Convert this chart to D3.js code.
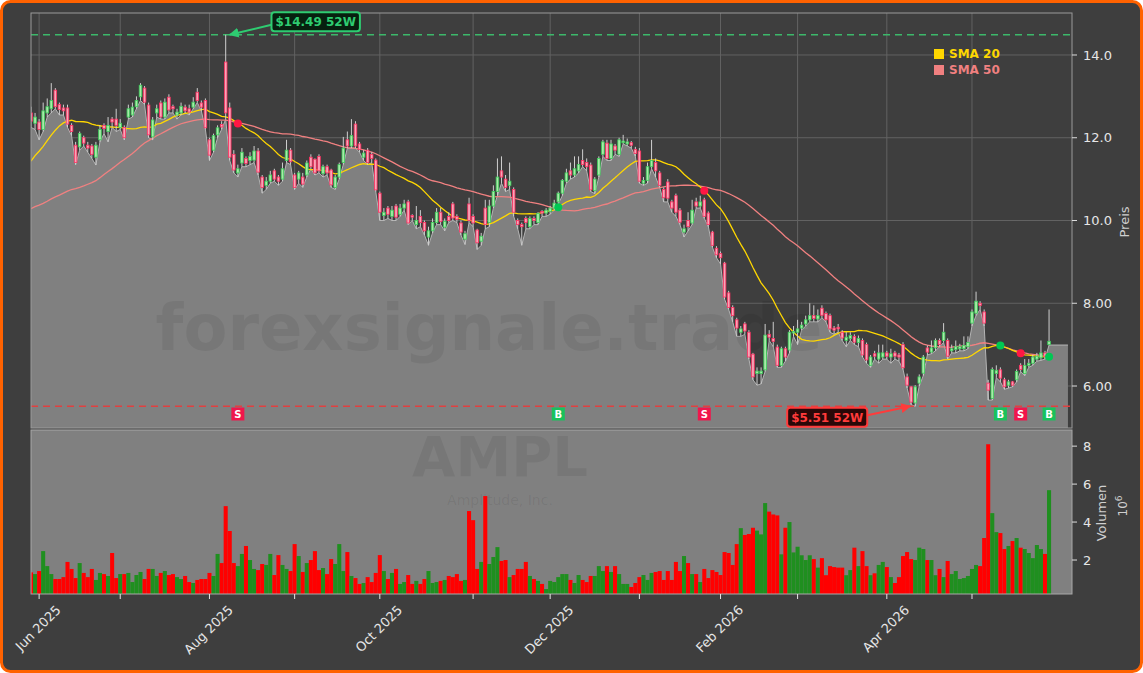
<!DOCTYPE html>
<html><head><meta charset="utf-8">
<script src="https://cdn.jsdelivr.net/npm/d3@7"></script>
<style>
html,body{margin:0;padding:0;background:#ffffff;}
svg{display:block;font-family:"DejaVu Sans",sans-serif;}
</style></head><body>
<svg id="chart" width="1143" height="673"></svg>
<script>
// ---------------- DATA ----------------
const startDate = "2025-05-29";
const holidays = ["2025-06-19","2025-07-04","2025-09-01","2025-11-27","2025-12-25","2026-01-01","2026-01-19","2026-02-16","2026-04-03","2026-05-25"];
const ticker = "AMPL";
const company = "Amplitude, Inc.";
const watermark = "forexsignale.trade";

const open = [12.6,12.35,12.38,12.2,12.6,12.7,13.15,12.8,12.72,12.72,12.3,11.82,11.78,12.0,11.82,11.8,11.53,11.95,12.3,12.15,
12.45,12.45,12.25,12.25,12.5,12.55,12.75,12.99,13.2,12.79,12.02,12.6,12.84,12.5,12.98,12.75,12.55,12.6,12.74,12.7,
12.74,13.1,12.84,12.9,11.95,11.7,12.07,12.32,13.83,12.72,11.6,11.15,11.39,11.5,11.45,11.46,11.68,11.05,10.85,10.95,
11.2,11.05,11.0,11.45,11.7,11.1,11.0,11.05,11.1,11.53,11.48,11.55,11.13,11.3,11.22,10.8,11.05,11.4,11.95,11.8,
12.33,11.85,11.53,11.7,11.6,11.46,10.66,10.12,10.3,10.1,10.35,10.15,10.3,10.45,10.12,9.9,10.1,9.95,9.6,9.75,
9.95,10.2,9.84,10.1,10.4,10.1,9.94,9.55,10.4,10.1,9.77,9.5,10.3,9.95,10.35,10.7,11.2,11.0,10.85,10.75,
10.0,9.9,10.05,9.85,10.05,9.95,10.22,10.18,10.22,10.3,10.45,10.66,10.95,11.2,11.1,11.2,11.45,11.4,11.34,10.72,
11.1,11.6,11.87,11.5,11.8,11.6,11.88,11.85,11.88,11.72,11.68,10.9,10.97,11.3,11.4,11.15,10.75,10.93,10.45,10.6,
10.25,9.72,10.0,9.94,10.45,10.35,10.5,10.18,9.72,9.33,9.2,8.97,8.25,7.9,7.6,7.3,7.5,7.3,6.77,6.3,
6.3,6.39,7.25,7.15,6.94,6.5,6.9,6.87,7.28,7.3,7.4,7.5,7.6,7.7,7.62,7.88,7.75,7.7,7.4,7.42,
7.3,7.1,7.15,7.2,7.05,7.1,7.0,6.5,6.78,6.65,6.7,6.8,6.7,6.8,6.75,7.0,6.22,5.98,5.59,6.07,
6.31,6.92,6.82,6.92,7.1,7.1,7.1,6.85,6.88,6.9,6.9,6.95,7.52,7.76,8.0,7.79,6.07,5.7,6.3,6.39,
6.15,6.02,6.1,6.15,6.5,6.3,6.5,6.55,6.65,6.68,6.8,7.0];
const high = [12.75,12.6,12.45,12.85,12.95,13.32,13.2,12.85,12.8,12.8,12.35,11.9,12.15,12.05,11.9,11.85,11.9,12.3,12.35,12.5,
12.5,12.7,12.45,12.3,12.8,12.85,13.0,13.32,13.25,12.85,12.5,12.8,12.9,12.95,13.05,12.8,12.7,12.85,12.8,12.8,
12.98,13.2,12.9,12.95,12.0,12.1,12.3,12.4,14.49,12.85,11.7,11.35,11.75,11.55,11.65,11.8,11.75,11.1,11.05,11.2,
11.25,11.1,11.4,11.95,11.75,11.15,11.2,11.15,11.45,11.6,11.5,11.6,11.35,11.35,11.25,11.1,11.4,12.02,12.15,12.45,
12.4,11.9,11.7,11.75,11.65,11.5,10.7,10.3,10.35,10.35,10.4,10.4,10.5,10.5,10.15,10.35,10.25,10.0,9.85,10.05,
10.3,10.3,10.05,10.2,10.45,10.15,10.0,9.75,10.55,10.15,9.8,9.7,10.5,10.5,10.85,11.5,11.55,11.1,11.4,10.8,
10.05,9.95,10.1,10.1,10.1,10.2,10.25,10.3,10.35,10.5,10.7,11.0,11.25,11.4,11.55,11.55,11.72,11.5,11.4,11.05,
11.55,11.95,11.95,11.95,11.85,12.0,12.07,11.98,11.92,11.78,11.75,11.05,11.4,11.95,11.5,11.2,10.8,11.0,10.5,10.65,
10.3,9.9,10.2,10.5,10.55,10.6,10.55,10.22,9.75,9.38,9.25,9.0,8.3,7.95,7.65,7.45,7.55,7.35,6.8,6.45,
6.45,7.5,7.35,7.55,7.0,6.95,6.95,7.35,7.45,7.6,7.55,7.7,8.0,7.95,7.85,7.95,7.8,7.75,7.45,7.5,
7.35,7.3,7.3,7.25,7.22,7.15,7.05,6.75,6.85,7.0,7.0,6.85,6.9,6.85,6.8,7.06,6.3,6.0,6.02,6.28,
6.75,6.98,7.1,7.15,7.15,7.52,7.15,7.0,7.1,7.02,7.2,7.2,7.85,8.28,8.05,7.85,6.15,6.45,6.5,6.45,
6.2,6.15,6.12,6.4,6.55,6.65,6.65,6.75,6.8,7.1,6.85,7.85];
const low = [12.25,12.2,11.95,12.15,12.5,12.6,12.7,12.55,12.55,12.25,12.05,11.35,11.7,11.8,11.65,11.5,11.34,11.9,12.1,11.9,
12.25,12.15,12.2,11.95,12.45,12.5,12.7,12.9,12.8,12.0,11.95,12.5,12.45,12.45,12.6,12.6,12.45,12.55,12.6,12.55,
12.7,12.85,12.65,12.2,11.45,11.65,12.0,12.2,12.45,11.45,11.15,11.05,11.3,11.3,11.35,11.4,11.1,10.66,10.75,10.9,
10.95,10.85,10.95,11.4,11.35,10.75,10.9,10.8,11.05,11.25,11.1,11.15,11.05,11.1,10.8,10.75,11.0,11.35,11.75,11.75,
11.75,11.65,11.45,11.35,11.4,10.7,10.0,10.0,10.05,10.0,10.0,10.1,10.25,9.9,10.0,9.8,9.85,9.65,9.4,9.7,
9.9,9.9,9.75,9.95,10.0,9.95,9.65,9.42,9.95,9.85,9.3,9.4,9.8,9.85,10.3,10.6,10.9,10.7,10.75,10.1,
9.8,9.4,9.8,9.8,9.9,9.9,10.1,10.1,10.15,10.25,10.4,10.6,10.9,11.0,11.05,11.15,11.3,11.2,10.7,10.65,
11.05,11.55,11.45,11.45,11.6,11.55,11.85,11.8,11.75,11.55,10.9,10.85,10.9,11.25,11.05,10.8,10.45,10.45,10.2,10.1,
9.9,9.6,9.75,9.9,10.3,10.3,10.05,9.85,9.35,9.1,8.95,8.1,7.85,7.55,7.2,7.2,7.25,6.65,6.15,6.02,
6.05,6.35,7.1,6.95,6.45,6.45,6.6,6.8,7.2,7.0,7.35,7.45,7.55,7.55,7.55,7.65,7.55,7.3,7.25,7.3,
7.1,6.95,7.1,7.0,6.95,6.7,6.55,6.45,6.65,6.55,6.65,6.65,6.55,6.65,6.6,6.4,5.95,5.55,5.51,6.0,
6.25,6.75,6.78,6.85,6.95,7.05,6.65,6.8,6.8,6.85,6.85,6.9,7.45,7.7,7.85,7.45,5.66,5.66,6.2,6.1,
5.92,5.95,5.98,6.1,6.35,6.25,6.45,6.5,6.6,6.62,6.65,6.99];
const close = [12.4,12.5,12.2,12.65,12.75,12.9,12.75,12.68,12.65,12.33,12.15,11.4,12.1,11.87,11.75,11.6,11.82,12.2,12.22,12.3,
12.38,12.3,12.35,12.0,12.7,12.74,12.9,13.27,12.86,12.07,12.43,12.7,12.5,12.86,12.67,12.7,12.62,12.76,12.65,12.62,
12.86,12.9,12.74,12.24,11.58,12.05,12.24,12.26,12.6,11.53,11.22,11.25,11.65,11.38,11.55,11.68,11.17,10.8,10.95,11.1,
11.0,10.95,11.25,11.7,11.42,10.8,11.15,10.88,11.39,11.3,11.15,11.2,11.3,11.15,10.86,11.05,11.35,11.75,11.8,12.05,
11.8,11.72,11.63,11.4,11.5,10.74,10.2,10.2,10.15,10.25,10.08,10.3,10.4,9.94,10.08,10.0,9.95,9.75,9.75,9.95,
10.2,9.98,9.98,10.0,10.06,10.03,9.72,9.68,10.0,9.94,9.46,9.62,9.9,10.35,10.7,11.05,11.05,10.8,10.95,10.2,
9.9,9.85,9.95,10.05,10.0,10.17,10.18,10.25,10.3,10.42,10.66,10.97,11.15,11.1,11.25,11.35,11.35,11.3,10.74,11.0,
11.5,11.9,11.5,11.85,11.7,11.95,11.92,11.9,11.82,11.62,10.95,10.97,11.3,11.45,11.2,10.85,10.55,10.54,10.3,10.2,
9.96,9.8,9.85,10.25,10.35,10.45,10.1,9.9,9.4,9.17,9.1,8.15,7.9,7.7,7.4,7.38,7.33,6.7,6.22,6.36,
6.36,7.23,7.18,7.08,6.5,6.9,6.7,7.3,7.32,7.38,7.47,7.6,7.7,7.63,7.7,7.71,7.6,7.38,7.35,7.38,
7.16,7.18,7.22,7.06,7.15,6.75,6.63,6.7,6.72,6.8,6.8,6.72,6.78,6.72,6.7,6.44,6.02,5.61,5.98,6.22,
6.7,6.82,6.92,7.1,7.0,7.3,6.72,6.9,6.95,6.95,6.98,7.05,7.79,8.05,7.95,7.52,5.9,6.4,6.38,6.19,
5.98,6.1,6.02,6.35,6.4,6.5,6.55,6.7,6.72,6.8,6.72,7.08];
// volume in millions
const volume = [1.35,1.26,1.42,2.47,1.68,1.26,1.0,1.0,1.1,1.9,1.53,1.05,1.84,1.32,1.1,1.53,0.95,1.32,1.26,1.16,
2.37,1.05,1.26,1.26,1.32,0.84,1.21,1.37,1.0,1.53,1.53,1.16,1.32,1.42,1.21,1.26,1.1,1.0,1.16,0.84,
0.79,0.95,1.0,1.0,1.32,1.16,2.32,1.84,4.84,3.53,1.84,1.68,2.32,2.74,2.0,1.53,1.47,1.79,1.74,2.32,
1.21,2.26,1.74,1.53,1.42,2.84,2.21,1.37,1.84,2.0,2.47,1.47,1.58,1.26,2.05,1.79,2.84,1.42,2.42,1.16,
1.05,0.74,0.79,1.1,0.84,1.32,2.26,1.42,1.0,1.32,1.53,0.74,0.84,1.21,0.74,0.9,0.74,1.0,1.42,0.79,
0.84,0.9,0.95,1.16,1.1,1.26,0.9,0.95,4.58,4.1,1.53,1.9,5.37,1.79,2.16,2.68,1.95,2.0,1.1,1.21,
1.53,1.53,1.9,1.16,1.0,0.9,0.74,0.47,0.9,0.84,1.1,1.26,1.26,0.95,0.79,1.21,0.95,0.84,1.16,1.16,
1.68,1.42,1.68,1.37,1.68,1.26,0.74,0.74,0.58,0.79,1.1,1.21,0.95,1.32,1.37,1.42,0.95,1.42,0.95,1.9,
1.42,2.21,1.84,1.26,1.26,0.84,1.53,1.05,1.47,1.37,1.21,2.42,2.37,1.74,2.84,3.68,3.32,3.37,3.7,3.55,
3.35,5.0,4.55,4.4,4.35,2.3,3.7,4.0,2.4,2.7,2.25,2.0,2.25,2.05,1.6,2.1,1.2,1.68,1.63,1.6,
1.6,1.2,1.47,2.65,1.68,2.47,1.68,1.2,1.3,1.74,1.9,1.63,1.1,0.79,1.1,2.21,2.42,2.05,2.0,2.65,
2.58,2.0,2.0,1.2,1.53,1.1,1.95,1.26,1.42,1.0,1.05,1.16,1.53,1.74,1.68,3.16,8.1,4.47,3.47,3.42,
2.58,2.74,3.0,3.16,2.65,2.58,2.37,2.1,2.79,2.58,2.32,5.68];
// closes before the visible window (needed for the moving averages)
const priorCloses = [10.1,10.3,10.5,10.2,10.0,10.4,10.6,10.3,9.9,10.1,10.4,10.5,10.1,9.8,9.7,9.4,
8.5,8.3,8.7,9.0,8.6,8.4,8.7,8.9,9.1,8.8,8.7,9.0,9.2,
9.4,9.8,10.1,10.3,10.0,10.2,10.4,10.6,
11.2,11.5,11.7,12.0,12.2,11.9,12.1,12.4,12.3,12.5,12.6,12.5];
const signalDates = ["2025-08-12","2025-12-03","2026-01-27","2026-05-12","2026-05-19","2026-05-29"];
const signalTypes = ["S","B","S","B","S","B"];
const priceTicks = [6,8,10,12,14];
const priceTickLabels = ["6.00","8.00","10.0","12.0","14.0"];
const volumeTicks = [2,4,6,8];
const xTickLabels = ["Jun 2025","Aug 2025","Oct 2025","Dec 2025","Feb 2026","Apr 2026"];
const smaPeriods = [20,50];
const smaNames = ["SMA 20","SMA 50"];
const smaColors = ["#ffd700","#f08080"];

// ---------------- LAYOUT ----------------
const W = 1143, H = 673;
const L = 31, R = 1072, PT = 13, PB = 428, VT = 430, VB = 594;
const step = 4.056;

const svg = d3.select("#chart");
const fmtDay = d3.timeFormat("%Y-%m-%d");
const fmtMon = d3.timeFormat("%b %Y");

// trading calendar
const dates = [];
{
  const d = new Date(startDate + "T12:00:00");
  while (dates.length < close.length) {
    const wd = d.getDay();
    if (wd !== 0 && wd !== 6 && !holidays.includes(fmtDay(d))) dates.push(new Date(d));
    d.setDate(d.getDate() + 1);
  }
}
const dateIndex = new Map(dates.map((d, i) => [fmtDay(d), i]));
const N = close.length;

const x = d3.scaleLinear().domain([0, (R - L) / step]).range([L, R]);
const y = d3.scaleLinear().domain([4.985, 15.015]).range([PB, PT]);
const yv = d3.scaleLinear().domain([0.21, 8.85]).range([VB, VT]);

// moving averages
const allC = priorCloses.concat(close);
const smas = smaPeriods.map(n => close.map((c, i) => {
  const j = i + priorCloses.length;
  return d3.mean(allC.slice(j - n + 1, j + 1));
}));

// background + frame
svg.append("rect").attr("x", 1.5).attr("y", 1.5).attr("width", W - 3).attr("height", H - 3)
  .attr("rx", 9).attr("fill", "#3e3e3e").attr("stroke", "#ff6200").attr("stroke-width", 3);

const defs = svg.append("defs");
defs.append("clipPath").attr("id", "cp").append("rect").attr("x", L).attr("y", PT).attr("width", R - L).attr("height", PB - PT);
defs.append("clipPath").attr("id", "cv").append("rect").attr("x", L).attr("y", VT).attr("width", R - L).attr("height", VB - VT);
function marker(id, color) {
  defs.append("marker").attr("id", id).attr("viewBox", "0 0 10 10").attr("refX", 9).attr("refY", 5)
    .attr("markerWidth", 5).attr("markerHeight", 5).attr("orient", "auto-start-reverse")
    .append("path").attr("d", "M0,0 L10,5 L0,10 z").attr("fill", color);
}
marker("ag", "#2ecc71");
marker("ar", "#ff3b3b");

// month ticks
const monthIdx = [];
dates.forEach((d, i) => { if (i > 0 && d.getMonth() !== dates[i - 1].getMonth()) monthIdx.push(i); });

// ---------- PRICE PANEL ----------
const gp = svg.append("g");
gp.append("rect").attr("x", L).attr("y", PT).attr("width", R - L).attr("height", PB - PT).attr("fill", "#3e3e3e");
const gc = gp.append("g").attr("clip-path", "url(#cp)");
// grid
gc.selectAll("line.hg").data(priceTicks).join("line")
  .attr("x1", L).attr("x2", R).attr("y1", d => y(d)).attr("y2", d => y(d))
  .attr("stroke", "#626262").attr("stroke-width", 1);
gc.selectAll("line.vg").data(monthIdx).join("line")
  .attr("x1", d => x(d)).attr("x2", d => x(d)).attr("y1", PT).attr("y2", PB)
  .attr("stroke", "#626262").attr("stroke-width", 1);

// area (lows)
const areaPts = low.map((v, i) => [i, v]);
areaPts.push([x.domain()[1] - 1, low[N - 1]]);
gc.append("path").datum(areaPts)
  .attr("d", d3.area().x(d => x(d[0])).y0(PB).y1(d => y(d[1])))
  .attr("fill", "#808080");
gc.append("path").datum(areaPts)
  .attr("d", d3.line().x(d => x(d[0])).y(d => y(d[1])))
  .attr("fill", "none").attr("stroke", "#b4b4b4").attr("stroke-width", 1);

// watermark
gc.append("text").attr("x", 489).attr("y", 350).attr("text-anchor", "middle")
  .attr("font-size", 64).attr("font-weight", "bold").attr("fill", "#000").attr("fill-opacity", 0.07)
  .text(watermark);

// 52w lines
const hiVal = d3.max(high), loVal = d3.min(low);
const hiIdx = high.indexOf(hiVal), loIdx = low.indexOf(loVal);
gc.append("line").attr("x1", L).attr("x2", R).attr("y1", y(hiVal)).attr("y2", y(hiVal))
  .attr("stroke", "#3cb86a").attr("stroke-width", 1.5).attr("stroke-dasharray", "7,5");
gc.append("line").attr("x1", L).attr("x2", R).attr("y1", y(loVal)).attr("y2", y(loVal))
  .attr("stroke", "#e04040").attr("stroke-width", 1.5).attr("stroke-dasharray", "7,5");

// SMA lines (50 below 20)
[1, 0].forEach(k => {
  gc.append("path").datum(smas[k])
    .attr("d", d3.line().x((d, i) => x(i)).y(d => y(d)).curve(d3.curveLinear))
    .attr("fill", "none").attr("stroke", smaColors[k]).attr("stroke-width", 1.3);
});

// candles
const cg = gc.append("g");
const idx = d3.range(N);
cg.selectAll("line.wick").data(idx).join("line")
  .attr("x1", i => x(i)).attr("x2", i => x(i))
  .attr("y1", i => y(high[i])).attr("y2", i => y(low[i]))
  .attr("stroke", "#cfcfcf").attr("stroke-width", 1);
const bw = 2.6;
cg.selectAll("rect.body").data(idx).join("rect")
  .attr("x", i => x(i) - bw / 2)
  .attr("y", i => y(Math.max(open[i], close[i])))
  .attr("width", bw)
  .attr("height", i => Math.max(1, Math.abs(y(open[i]) - y(close[i]))))
  .attr("fill", i => close[i] >= open[i] ? "#a8eaa8" : "#f7a6b8")
  .attr("stroke", i => close[i] >= open[i] ? "#3ccc5a" : "#ff2d5f")
  .attr("stroke-width", 0.8);

// signals
const sig = signalDates.map((d, k) => ({ i: dateIndex.get(d), t: signalTypes[k] }));
gc.selectAll("circle.sig").data(sig).join("circle")
  .attr("cx", d => x(d.i)).attr("cy", d => y(smas[0][d.i])).attr("r", 4)
  .attr("fill", d => d.t === "B" ? "#00c853" : "#ff1744");
const sg = gc.selectAll("g.sb").data(sig).join("g").attr("transform", d => `translate(${x(d.i)},${PB - 14})`);
sg.append("rect").attr("x", -6.5).attr("y", -6.5).attr("width", 13).attr("height", 13)
  .attr("fill", d => d.t === "B" ? "#19c25c" : "#f0164c");
sg.append("text").attr("text-anchor", "middle").attr("dy", "0.36em").attr("font-size", 10)
  .attr("font-weight", "bold").attr("fill", "#fff").text(d => d.t);

// 52W annotations
function annot(idxV, val, color, fill, dx, dy, arrowId) {
  const px = x(idxV), py = y(val);
  const g = svg.append("g");
  const t = g.append("text").attr("x", px + dx).attr("y", py + dy).attr("text-anchor", "middle")
    .attr("dy", "0.36em").attr("font-size", 12).attr("font-weight", "bold").attr("fill", color)
    .text("$" + val.toFixed(2) + " 52W");
  const w = t.node().getComputedTextLength() + 8, h = 19;
  g.insert("rect", "text").attr("x", px + dx - w / 2).attr("y", py + dy - h / 2).attr("width", w).attr("height", h)
    .attr("rx", 3).attr("fill", fill).attr("stroke", color).attr("stroke-width", 2);
  const sx = dx > 0 ? px + dx - w / 2 : px + dx + w / 2;
  const ex = dx > 0 ? px + 4 : px - 5;
  g.append("line").attr("x1", sx).attr("y1", py + dy + (dy < 0 ? 3 : -2)).attr("x2", ex).attr("y2", py)
    .attr("stroke", color).attr("stroke-width", 2).attr("marker-end", `url(#${arrowId})`);
}

// price frame and axis
gp.append("rect").attr("x", L).attr("y", PT).attr("width", R - L).attr("height", PB - PT)
  .attr("fill", "none").attr("stroke", "#9a9a9a").attr("stroke-width", 1);
const pa = svg.append("g");
pa.selectAll("line").data(priceTicks).join("line")
  .attr("x1", R).attr("x2", R + 5).attr("y1", d => y(d)).attr("y2", d => y(d)).attr("stroke", "#dddddd");
pa.selectAll("text").data(priceTicks).join("text")
  .attr("x", R + 11).attr("y", d => y(d)).attr("dy", "0.36em").attr("font-size", 13).attr("fill", "#e6e6e6")
  .text((d, k) => priceTickLabels[k]);
svg.append("text").attr("transform", `translate(1129,222) rotate(-90)`).attr("text-anchor", "middle")
  .attr("font-size", 13).attr("fill", "#cfcfcf").text("Preis");

// legend
smaNames.forEach((n, k) => {
  svg.append("rect").attr("x", 934).attr("y", 49 + k * 16).attr("width", 10).attr("height", 10).attr("fill", smaColors[k]);
  svg.append("text").attr("x", 949).attr("y", 54 + k * 16).attr("dy", "0.36em").attr("font-size", 12)
    .attr("font-weight", "bold").attr("fill", smaColors[k]).text(n);
});

// ---------- VOLUME PANEL ----------
const gv = svg.append("g");
gv.append("rect").attr("x", L).attr("y", VT).attr("width", R - L).attr("height", VB - VT).attr("fill", "#808080");
const gvc = gv.append("g").attr("clip-path", "url(#cv)");
gvc.append("text").attr("x", 500).attr("y", 476).attr("text-anchor", "middle").attr("font-size", 56)
  .attr("font-weight", "bold").attr("fill", "#000").attr("fill-opacity", 0.07).text(ticker);
gvc.append("text").attr("x", 500).attr("y", 505).attr("text-anchor", "middle").attr("font-size", 14)
  .attr("fill", "#000").attr("fill-opacity", 0.08).text(company);
gvc.selectAll("rect.vol").data(idx).join("rect")
  .attr("x", i => x(i) - step / 2).attr("width", step)
  .attr("y", i => yv(volume[i])).attr("height", i => VB - yv(volume[i]))
  .attr("fill", i => close[i] >= open[i] ? "#1f8f1f" : "#ff0000");
gv.append("rect").attr("x", L).attr("y", VT).attr("width", R - L).attr("height", VB - VT)
  .attr("fill", "none").attr("stroke", "#a8a8a8").attr("stroke-width", 1);
const va = svg.append("g");
va.selectAll("line").data(volumeTicks).join("line")
  .attr("x1", R).attr("x2", R + 5).attr("y1", d => yv(d)).attr("y2", d => yv(d)).attr("stroke", "#dddddd");
va.selectAll("text").data(volumeTicks).join("text")
  .attr("x", R + 11).attr("y", d => yv(d)).attr("dy", "0.36em").attr("font-size", 13).attr("fill", "#e6e6e6")
  .text(d => d);
svg.append("text").attr("transform", `translate(1106,513) rotate(-90)`).attr("text-anchor", "middle")
  .attr("font-size", 13).attr("fill", "#cfcfcf").text("Volumen");
const ex = svg.append("text").attr("transform", `translate(1127,506) rotate(-90)`).attr("text-anchor", "middle")
  .attr("font-size", 12).attr("fill", "#cfcfcf");
ex.append("tspan").text("10");
ex.append("tspan").attr("dy", -5).attr("font-size", 9).text("6");

// x axis
const xa = svg.append("g");
xa.selectAll("line").data(monthIdx).join("line")
  .attr("x1", d => x(d)).attr("x2", d => x(d)).attr("y1", VB).attr("y2", VB + 5).attr("stroke", "#e6e6e6");
monthIdx.forEach(i => {
  const lab = fmtMon(dates[i]);
  if (!xTickLabels.includes(lab)) return;
  const t = xa.append("text").attr("text-anchor", "middle").attr("dominant-baseline", "central")
    .attr("font-size", 13).attr("fill", "#e6e6e6").text(lab);
  const w = t.node().getComputedTextLength();
  const half = (w + 13) * 0.7071 / 2;
  t.attr("transform", `translate(${x(i) - 1},${603 + half}) rotate(-45)`);
});

annot(hiIdx, hiVal, "#2ecc71", "#07200f", 90, -13, "ag");
annot(loIdx, loVal, "#ff3b3b", "#2a0808", -88, 11, "ar");
</script>
</body></html>
